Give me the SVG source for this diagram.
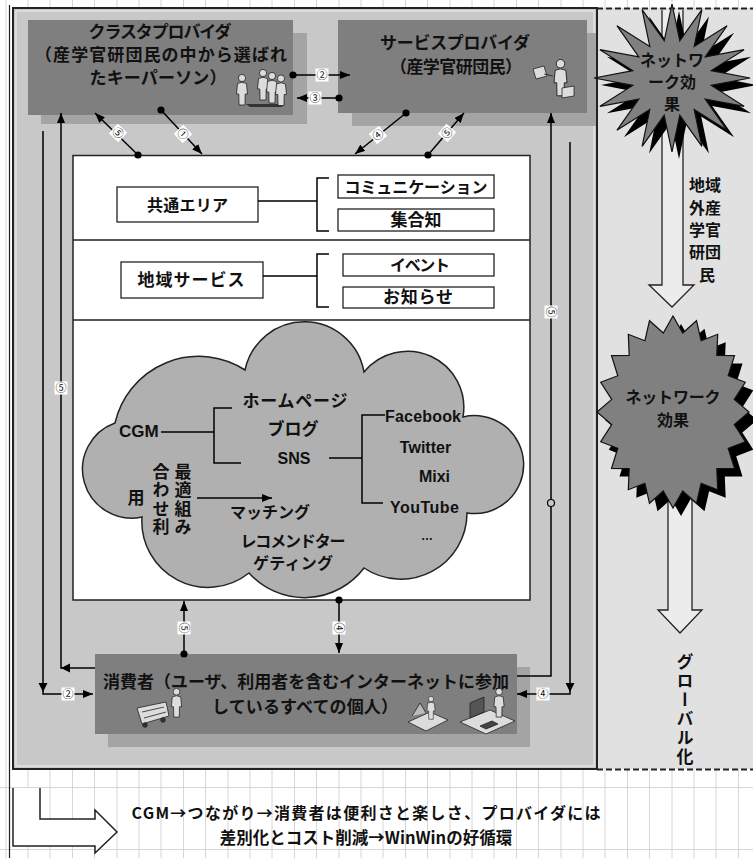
<svg xmlns="http://www.w3.org/2000/svg" xmlns:xlink="http://www.w3.org/1999/xlink" width="753" height="858" viewBox="0 0 753 858">
  <style>
    .t { font-family: "Noto Sans CJK JP", "Liberation Sans", sans-serif; fill: #111; font-weight: bold; }
    .lat { font-family: "Liberation Sans", Arial, sans-serif; fill: #111; font-weight: bold; }
    .c { text-anchor: middle; }
    .ln { stroke: #000; stroke-width: 1.5; fill: none; }
    .box { fill: #7f7f7f; }
    .shadow { fill: #a4a4a4; }
    .wb { fill: #fff; stroke: #222; stroke-width: 1.3; }
    .lbl rect { fill: #fff; }
    .lbl text { font-family: "Noto Sans CJK JP", sans-serif; font-size: 11px; text-anchor: middle; fill: #111; }
    .fig { fill: #dcdcdc; stroke: #222; stroke-width: 0.8; }
    .burst { fill: #808080; stroke: #111; stroke-width: 1.2; }
  </style>
  <defs>
    <marker id="arr" viewBox="0 0 10 8" refX="10" refY="4" markerWidth="10" markerHeight="8" markerUnits="userSpaceOnUse" orient="auto">
      <path d="M0,0 L10,4 L0,8 Z" fill="#000"/>
    </marker>
    <marker id="dot" viewBox="0 0 8 8" refX="4" refY="4" markerWidth="8" markerHeight="8" markerUnits="userSpaceOnUse">
      <circle cx="4" cy="4" r="3.6" fill="#000"/>
    </marker>
    <symbol id="person" viewBox="0 0 12 32" overflow="visible">
      <circle cx="6" cy="4" r="3.6"/>
      <path d="M1.5,9.5 Q6,7 10.5,9.5 L11.5,20 L9.2,20 L9,31 L3,31 L2.8,20 L0.5,20 Z"/>
    </symbol>
  </defs>

  <!-- sheet background with cell grid -->
  <rect width="753" height="858" fill="#fff"/>
  <path stroke="#d6d6d6" stroke-width="1" fill="none" d="M6,0V858M28,0V858M50,0V858M72.5,0V858M94.5,0V858M117,0V858M139,0V858M161,0V858M183.5,0V858M205.5,0V858M228,0V858M250,0V858M272,0V858M294.5,0V858M316.5,0V858M339,0V858M361,0V858M383,0V858M405.5,0V858M427.5,0V858M450,0V858M472,0V858M494,0V858M516.5,0V858M538.5,0V858M561,0V858M583,0V858M605,0V858M627.5,0V858M649.5,0V858M672,0V858M694,0V858M716,0V858M738.5,0V858M0,787.5H753M0,849.5H753"/>
  <line x1="9.5" y1="5" x2="9.5" y2="858" stroke="#222" stroke-width="1.2"/>

  <!-- right-hand region (external growth) -->
  <rect x="597" y="8" width="160" height="761" fill="#e1e1e1"/>
  <path d="M597,8.5H753M597,769.5H753" stroke="#222" stroke-width="2.2" stroke-dasharray="6 3" fill="none"/>

  <!-- main region -->
  <rect x="13" y="8" width="584" height="761" fill="#c8c8c8" stroke="#222" stroke-width="2"/>
  <rect x="16" y="11" width="578" height="755" fill="none" stroke="#eeeeee" stroke-width="1"/>

  <!-- cluster provider -->
  <g id="cluster-provider">
    <rect class="shadow" x="41" y="33" width="266" height="91"/>
    <rect class="box" x="28" y="20" width="265" height="95"/>
    <text class="t c" x="160" y="38" font-size="17" textLength="143">クラスタプロバイダ</text>
    <text class="t c" x="161" y="61" font-size="17" textLength="252">（産学官研団民の中から選ばれ</text>
    <text class="t c" x="158" y="84" font-size="17" textLength="137">たキーパーソン）</text>
    <g class="fig">
      <path d="M246,104 L284,104 L282,107 L250,107 Z" fill="#333" stroke="none"/>
      <use href="#person" x="236" y="74" width="12" height="32"/>
      <use href="#person" x="257" y="68" width="12" height="34"/>
      <use href="#person" x="266" y="71" width="12" height="34"/>
      <use href="#person" x="275" y="74" width="12" height="33"/>
    </g>
  </g>

  <!-- service provider -->
  <g id="service-provider">
    <rect class="shadow" x="352" y="33" width="244" height="93"/>
    <rect class="box" x="338" y="20" width="249" height="93"/>
    <text class="t c" x="455" y="49" font-size="17" textLength="150">サービスプロバイダ</text>
    <text class="t c" x="456" y="73" font-size="17" textLength="132">（産学官研団民）</text>
    <g class="fig">
      <path d="M533,69 L544,66 L547,76 L536,79 Z"/>
      <path d="M544,74 L553,76" fill="none"/>
      <use href="#person" x="552" y="59" width="17" height="38"/>
      <path d="M562,88 L574,86 L574,96 L562,98 Z"/>
    </g>
  </g>

  <!-- central platform panel -->
  <g id="platform">
    <rect x="73" y="155.5" width="457" height="444.5" fill="#fff" stroke="#222" stroke-width="1.5"/>
    <line x1="73" y1="240" x2="530" y2="240" stroke="#222" stroke-width="1.5"/>
    <line x1="73" y1="320" x2="530" y2="320" stroke="#222" stroke-width="1.5"/>
  </g>

  <g id="common-area">
    <rect class="wb" x="117" y="187" width="141" height="35"/>
    <text class="t c" x="187.5" y="211" font-size="16" textLength="81">共通エリア</text>
    <path class="ln" stroke-width="1.3" d="M258,201H317M329,178H317V231H329"/>
  </g>
  <g id="communication">
    <rect class="wb" x="338" y="175" width="156" height="23"/>
    <text class="t c" x="416" y="193" font-size="16" textLength="143">コミュニケーション</text>
  </g>
  <g id="collective-intelligence">
    <rect class="wb" x="338" y="209" width="156" height="22"/>
    <text class="t c" x="416" y="226" font-size="17">集合知</text>
  </g>
  <g id="local-service">
    <rect class="wb" x="121" y="262" width="142" height="36"/>
    <text class="t c" x="191" y="286" font-size="17" textLength="107">地域サービス</text>
    <path class="ln" stroke-width="1.3" d="M263,276H317M329,254H317V307H329"/>
  </g>
  <g id="event">
    <rect class="wb" x="343" y="254" width="151" height="22"/>
    <text class="t c" x="420" y="271" font-size="16" textLength="60">イベント</text>
  </g>
  <g id="notice">
    <rect class="wb" x="343" y="287" width="151" height="21"/>
    <text class="t c" x="418" y="303" font-size="17" textLength="70">お知らせ</text>
  </g>

  <!-- CGM cloud -->
  <g id="cgm-cloud">
    <path d="M115,423 A85.8,85.8 0 0 1 245,370 A60.6,60.6 0 0 1 364,372 A56.2,56.2 0 0 1 463,417 A49,49 0 1 1 467,513 A66.2,66.2 0 0 1 364,568 A74.7,74.7 0 0 1 249,573 A66,66 0 0 1 142,517 A49,49 0 0 1 115,423 Z" fill="#b0b0b0" stroke="#222" stroke-width="1.5"/>
    <text class="lat" x="119" y="437" font-size="17">CGM</text>
    <path class="ln" stroke-width="1.3" d="M161,432H214M232,408H214V463H241"/>
    <text class="t c" x="295" y="407" font-size="17" textLength="105">ホームページ</text>
    <text class="t c" x="293" y="435" font-size="17">ブログ</text>
    <text class="lat c" x="294" y="464" font-size="16">SNS</text>
    <path class="ln" stroke-width="1.3" d="M329,458H362M385,415H362V503H383"/>
    <text class="lat" x="385" y="422" font-size="16" textLength="76">Facebook</text>
    <text class="lat c" x="425.5" y="453" font-size="16">Twitter</text>
    <text class="lat c" x="434.5" y="482" font-size="16">Mixi</text>
    <text class="lat c" x="424.5" y="513" font-size="16" textLength="69">YouTube</text>
    <text class="lat c" x="427" y="540" font-size="12">…</text>
    <text class="t" x="183" y="463" font-size="17" writing-mode="vertical-rl" letter-spacing="1.3">最適組み</text>
    <text class="t" x="161" y="463" font-size="17" writing-mode="vertical-rl" letter-spacing="1.3">合わせ利</text>
    <text class="t" x="136" y="489" font-size="17" writing-mode="vertical-rl">用</text>
    <line class="ln" x1="197" y1="498" x2="272" y2="498" stroke-width="1.3" marker-end="url(#arr)"/>
    <text class="t c" x="270" y="518" font-size="16" textLength="80">マッチング</text>
    <text class="t c" x="293" y="547" font-size="16" textLength="105">レコメンドター</text>
    <text class="t c" x="293" y="569" font-size="16" textLength="80">ゲティング</text>
  </g>

  <!-- consumers -->
  <g id="consumer">
    <rect class="shadow" x="108" y="667" width="422" height="80"/>
    <rect class="box" x="95" y="654" width="422" height="80"/>
    <text class="t c" x="306" y="688" font-size="17" textLength="406">消費者（ユーザ、利用者を含むインターネットに参加</text>
    <text class="t c" x="305" y="713" font-size="17" textLength="186">しているすべての個人）</text>
    <g class="fig">
      <path d="M137,708 L166,702 L169,716 L142,724 Z"/>
      <path d="M142,712 L164,707 M144,718 L166,712" fill="none"/>
      <circle cx="145" cy="725" r="2.3" fill="#333"/>
      <circle cx="163" cy="720" r="2.3" fill="#333"/>
      <use href="#person" x="170" y="688" width="13" height="30"/>
      <path d="M408,722 L430,712 L448,720 L426,731 Z"/>
      <path d="M412,716 L420,703 L426,713" fill="#bbb"/>
      <use href="#person" x="425" y="696" width="12" height="24"/>
      <path d="M460,722 L490,710 L515,721 L486,734 Z"/>
      <path d="M470,718 L470,703 L484,697 L484,712 Z" fill="#555"/>
      <use href="#person" x="492" y="688" width="14" height="30"/>
      <path d="M480,726 L492,721 L498,724 L486,729 Z" fill="#444"/>
    </g>
  </g>

  <!-- connectors -->
  <g id="connectors">
    <path class="ln" d="M293,75H350" marker-start="url(#dot)" marker-end="url(#arr)"/>
    <path class="ln" d="M339,98H297" marker-start="url(#dot)" marker-end="url(#arr)"/>
    <path class="ln" d="M138,155L95,113" marker-start="url(#dot)" marker-end="url(#arr)"/>
    <path class="ln" d="M161,110L202,154" marker-start="url(#dot)" marker-end="url(#arr)"/>
    <path class="ln" d="M406,113L355,154" marker-start="url(#dot)" marker-end="url(#arr)"/>
    <path class="ln" d="M428,155L464,113" marker-start="url(#dot)" marker-end="url(#arr)"/>
    <path class="ln" d="M43,131V694H93" marker-end="url(#arr)"/>
    <path d="M38.5,683H47.5L43,692Z" fill="#000"/>
    <path class="ln" d="M95,668H61V113" marker-end="url(#arr)"/>
    <path d="M70,663.5V672.5L61,668Z" fill="#000"/>
    <path class="ln" d="M517,676H551V113" marker-end="url(#arr)"/>
    <circle cx="551" cy="503" r="3.5" fill="#c8c8c8" stroke="#000" stroke-width="1.2"/>
    <path class="ln" d="M570,142V694H517" marker-end="url(#arr)"/>
    <path d="M565.5,683H574.5L570,692Z" fill="#000"/>
    <path class="ln" d="M184,654V601" marker-start="url(#dot)" marker-end="url(#arr)"/>
    <path class="ln" d="M339,600V653" marker-start="url(#dot)" marker-end="url(#arr)"/>

    <g class="lbl" transform="translate(322,75)"><rect x="-6.5" y="-6.5" width="13" height="13"/><text y="4">②</text></g>
    <g class="lbl" transform="translate(315,98)"><rect x="-6.5" y="-6.5" width="13" height="13"/><text y="4">③</text></g>
    <g class="lbl" transform="translate(118,133) rotate(44)"><rect x="-6.5" y="-6.5" width="13" height="13"/><text y="4">⑤</text></g>
    <g class="lbl" transform="translate(183,134) rotate(47)"><rect x="-6.5" y="-6.5" width="13" height="13"/><text y="4">①</text></g>
    <g class="lbl" transform="translate(378,135) rotate(-39)"><rect x="-6.5" y="-6.5" width="13" height="13"/><text y="4">④</text></g>
    <g class="lbl" transform="translate(447,133) rotate(-49)"><rect x="-6.5" y="-6.5" width="13" height="13"/><text y="4">⑤</text></g>
    <g class="lbl" transform="translate(61,388)"><rect x="-6.5" y="-6.5" width="13" height="13"/><text y="4">⑤</text></g>
    <g class="lbl" transform="translate(551,312) rotate(90)"><rect x="-6.5" y="-6.5" width="13" height="13"/><text y="4">⑤</text></g>
    <g class="lbl" transform="translate(184,628) rotate(90)"><rect x="-6.5" y="-6.5" width="13" height="13"/><text y="4">⑤</text></g>
    <g class="lbl" transform="translate(339,628) rotate(90)"><rect x="-6.5" y="-6.5" width="13" height="13"/><text y="4">④</text></g>
    <g class="lbl" transform="translate(68,694)"><rect x="-6.5" y="-6.5" width="13" height="13"/><text y="4">②</text></g>
    <g class="lbl" transform="translate(543,694)"><rect x="-6.5" y="-6.5" width="13" height="13"/><text y="4">④</text></g>
  </g>

  <!-- regional spread arrow -->
  <g id="regional-arrow">
    <path d="M662,10V285H649L672,307L694,285H683V10" fill="#ececec" stroke="#222" stroke-width="1.3"/>
    <text class="t c" x="705" y="191" font-size="16">地域</text>
    <text class="t c" x="705" y="214" font-size="16">外産</text>
    <text class="t c" x="705" y="236" font-size="16">学官</text>
    <text class="t c" x="705" y="258" font-size="16">研団</text>
    <text class="t c" x="707" y="281" font-size="16">民</text>
  </g>

  <!-- network effect burst (regional) -->
  <g id="network-effect-1">
    <polygon fill="#000" transform="translate(7,7)" points="750,78 711.2,85.4 744.1,106.3 705.2,99.1 727.1,130.3 694.2,109.6 701.9,146.4 679.8,115.3 672,152 664.2,115.3 642.1,146.4 649.8,109.6 616.9,130.3 638.8,99.1 599.9,106.3 632.8,85.4 594,78 632.8,70.6 599.9,49.7 638.8,56.9 616.9,25.7 649.8,46.4 642.1,9.6 664.2,40.7 672,4 679.8,40.7 701.9,9.6 694.2,46.4 727.1,25.7 705.2,56.9 744.1,49.7 711.2,70.6"/>
    <polygon class="burst" points="750,78 711.2,85.4 744.1,106.3 705.2,99.1 727.1,130.3 694.2,109.6 701.9,146.4 679.8,115.3 672,152 664.2,115.3 642.1,146.4 649.8,109.6 616.9,130.3 638.8,99.1 599.9,106.3 632.8,85.4 594,78 632.8,70.6 599.9,49.7 638.8,56.9 616.9,25.7 649.8,46.4 642.1,9.6 664.2,40.7 672,4 679.8,40.7 701.9,9.6 694.2,46.4 727.1,25.7 705.2,56.9 744.1,49.7 711.2,70.6"/>
    <text class="t c" x="672" y="66" font-size="16">ネットワ</text>
    <text class="t c" x="672" y="88" font-size="16">ーク効</text>
    <text class="t c" x="672" y="110" font-size="16">果</text>
  </g>

  <!-- global spread arrow -->
  <g id="global-arrow">
    <path d="M668,500V610H658L680,633L702,610H692V500" fill="#ececec" stroke="#222" stroke-width="1.3"/>
    <text class="t" x="685" y="653" font-size="17" writing-mode="vertical-rl" letter-spacing="2">グローバル化</text>
  </g>

  <!-- network effect burst (global) -->
  <g id="network-effect-2">
    <polygon fill="#000" transform="translate(8,8)" points="749,412 734.3,424.5 745.3,441.7 728.2,448.3 734.5,468.4 716.8,468.6 717.7,489.7 701.1,483.3 696.5,503.3 682.7,491 673,508 663.3,491 649.5,503.3 644.9,483.3 628.3,489.7 629.2,468.6 611.5,468.4 617.8,448.3 600.7,441.7 611.7,424.5 597,412 611.7,399.5 600.7,382.3 617.8,375.7 611.5,355.6 629.2,355.4 628.3,334.3 644.9,340.7 649.5,320.7 663.3,333 673,316 682.7,333 696.5,320.7 701.1,340.7 717.7,334.3 716.8,355.4 734.5,355.6 728.2,375.7 745.3,382.3 734.3,399.5"/>
    <polygon class="burst" points="749,412 734.3,424.5 745.3,441.7 728.2,448.3 734.5,468.4 716.8,468.6 717.7,489.7 701.1,483.3 696.5,503.3 682.7,491 673,508 663.3,491 649.5,503.3 644.9,483.3 628.3,489.7 629.2,468.6 611.5,468.4 617.8,448.3 600.7,441.7 611.7,424.5 597,412 611.7,399.5 600.7,382.3 617.8,375.7 611.5,355.6 629.2,355.4 628.3,334.3 644.9,340.7 649.5,320.7 663.3,333 673,316 682.7,333 696.5,320.7 701.1,340.7 717.7,334.3 716.8,355.4 734.5,355.6 728.2,375.7 745.3,382.3 734.3,399.5"/>
    <text class="t c" x="673" y="403" font-size="16" textLength="95">ネットワーク</text>
    <text class="t c" x="673" y="426" font-size="16">効果</text>
  </g>

  <!-- summary -->
  <g id="summary">
    <path d="M40,788V819H95V810L117,832L95,853V846H13V788" fill="#fff" stroke="#222" stroke-width="1.5"/>
    <text class="t c" x="366" y="819" font-size="16" textLength="469">CGM→つながり→消費者は便利さと楽しさ、プロバイダには</text>
    <text class="t c" x="366" y="844" font-size="16.5">差別化とコスト削減→WinWinの好循環</text>
  </g>
</svg>
